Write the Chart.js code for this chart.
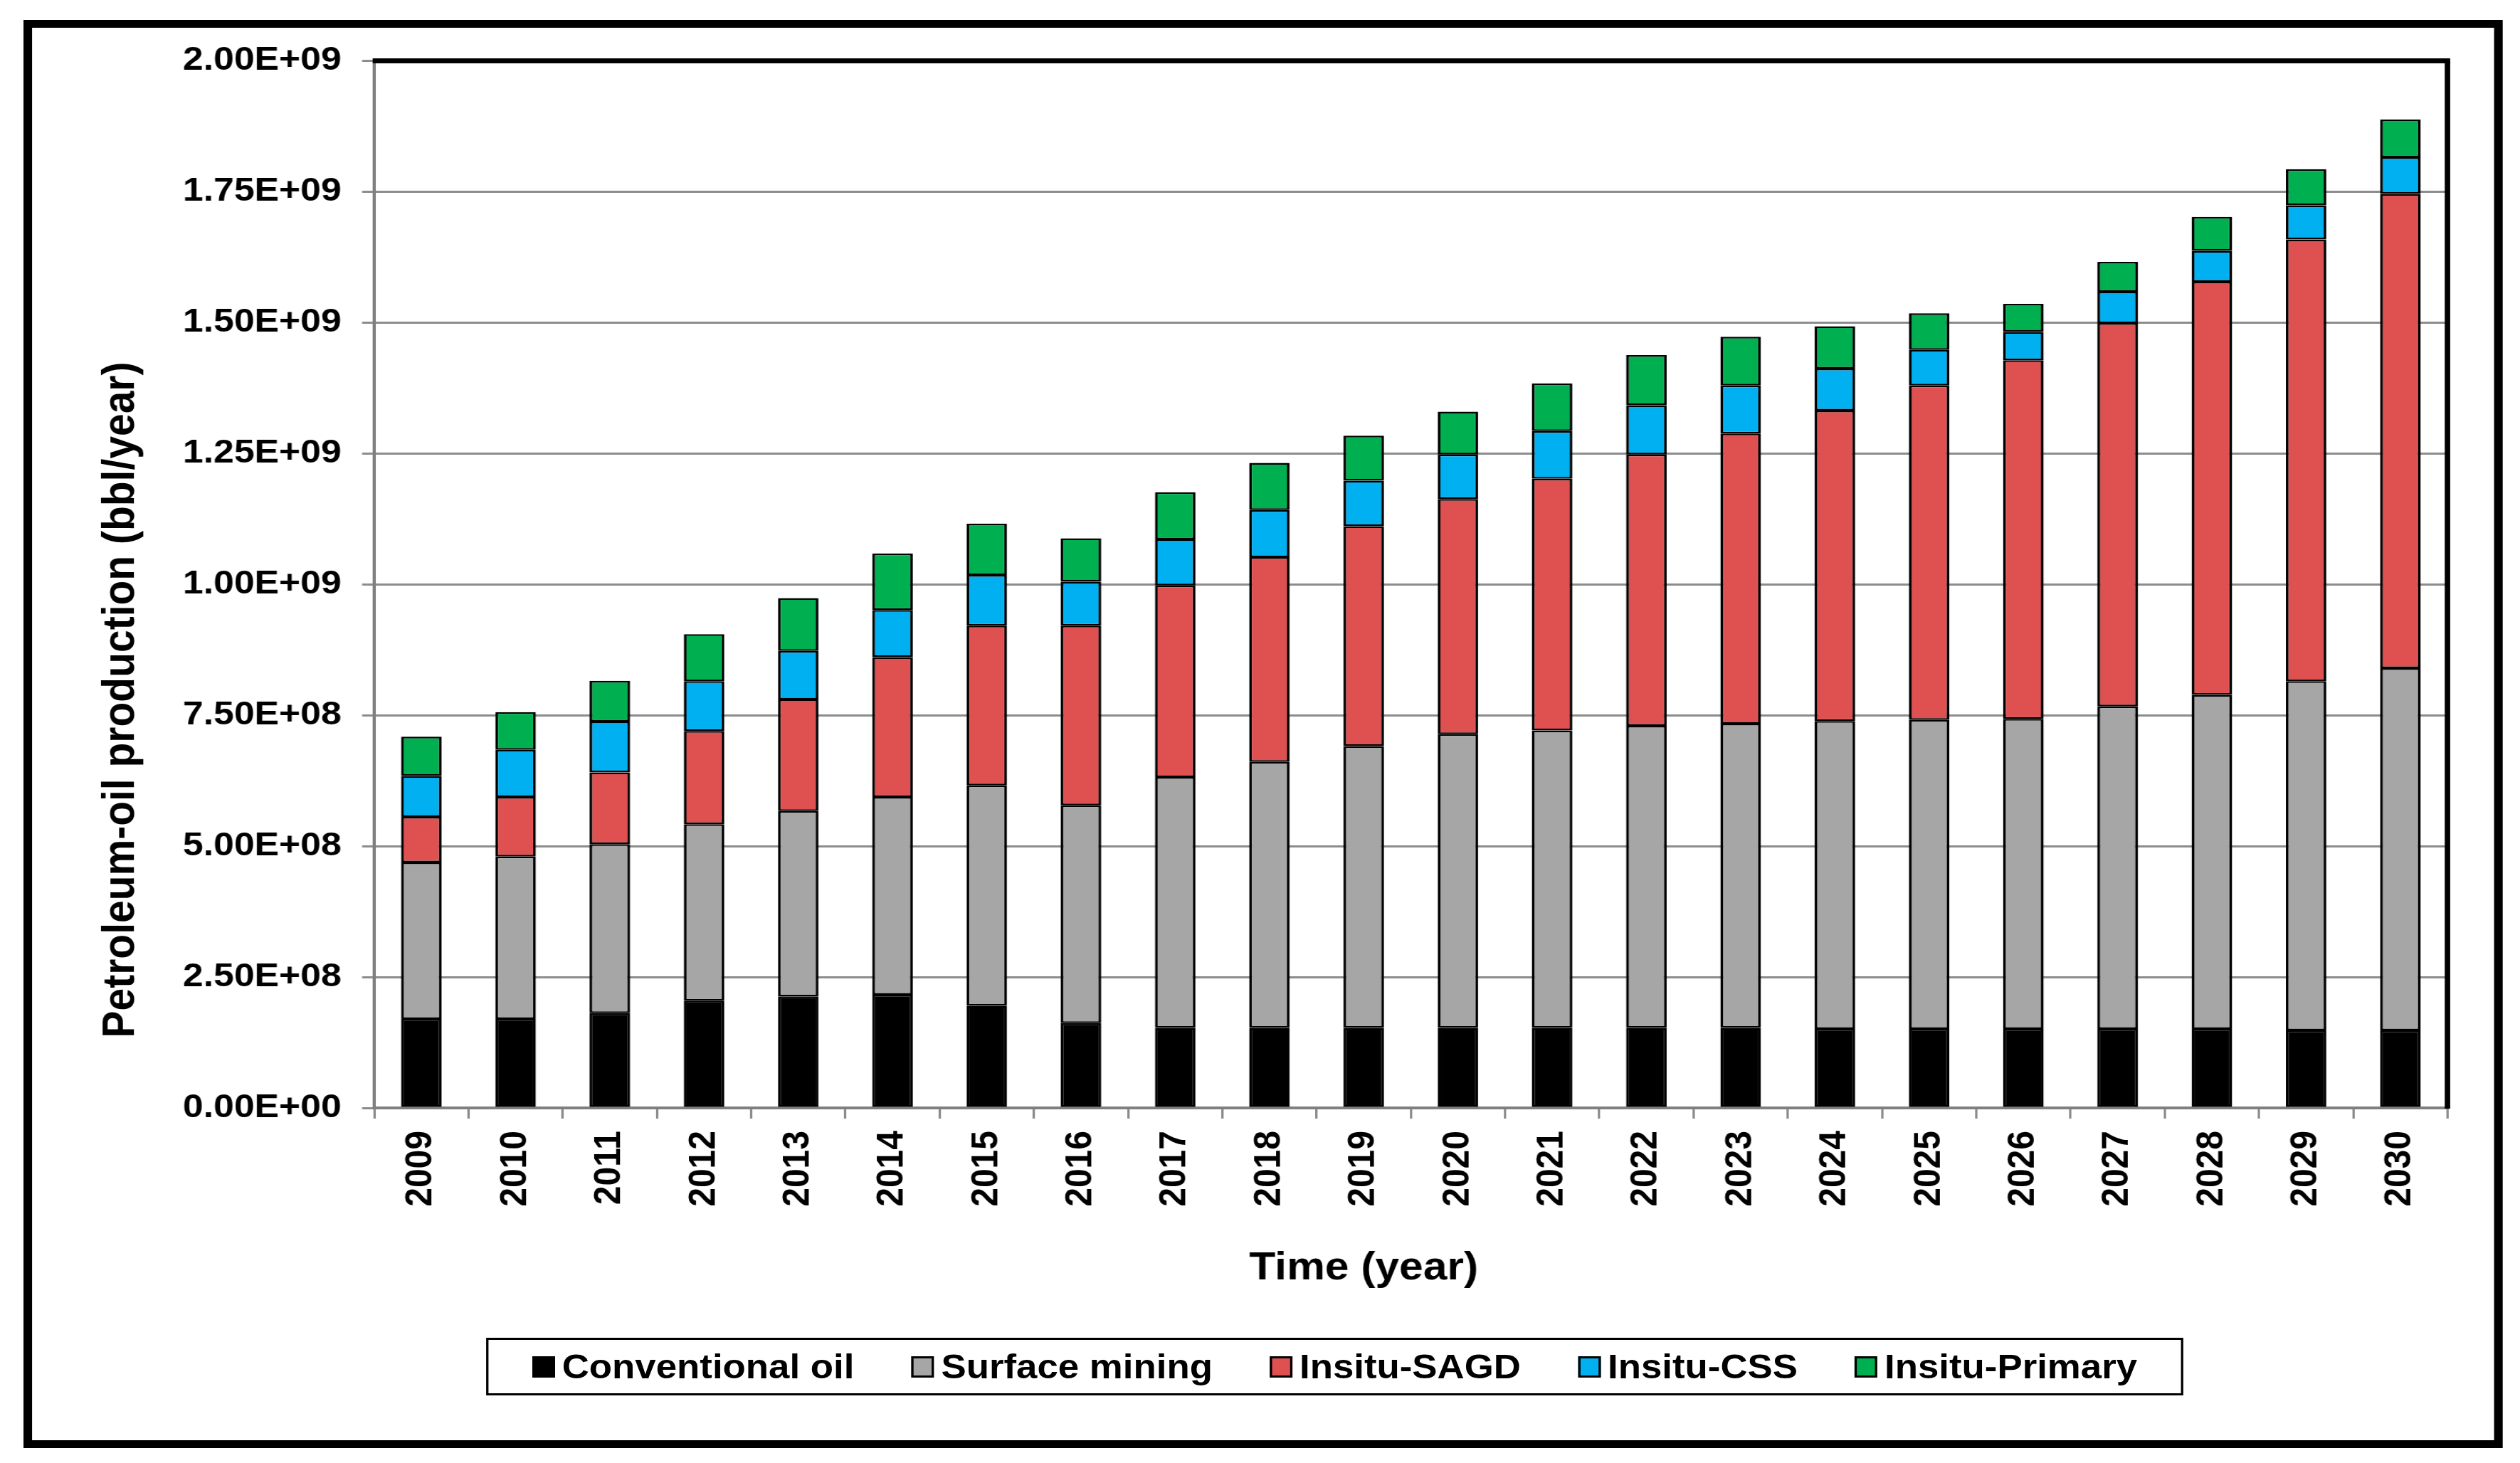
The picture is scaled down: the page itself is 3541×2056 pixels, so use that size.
<!DOCTYPE html>
<html>
<head>
<meta charset="utf-8">
<script src="https://cdn.jsdelivr.net/npm/chart.js@4.4.0/dist/chart.umd.min.js"></script>
<style>
html,body{margin:0;padding:0;background:#fff;overflow:hidden;width:3541px;height:2056px;}
#wrap{position:absolute;left:0;top:0;width:3219px;height:2056px;transform:scaleX(1.1);transform-origin:0 0;}
#chartbox{position:absolute;left:0;top:0;width:3219px;height:2056px;}
#frame{position:absolute;left:30px;top:28px;width:3167px;height:2007px;box-sizing:border-box;border:11px solid #000;pointer-events:none;}
#legend{position:absolute;left:621px;top:1880px;width:2168px;height:81px;box-sizing:border-box;border:3px solid #000;display:flex;align-items:center;justify-content:center;gap:73px;font:bold 48px "Liberation Sans",Arial,sans-serif;color:#000;background:#fff;}
.item{display:flex;align-items:center;white-space:nowrap;}
.sw{width:29px;height:30px;box-sizing:border-box;border:3px solid #000;margin-right:9px;}
</style>
</head>
<body>
<div id="wrap">
  <div id="chartbox"><canvas id="c"></canvas></div>
  <div id="frame"></div>
  <div id="legend"></div>
</div>
<script>
// ---- data (bbl/year) ----
const years = ["2009","2010","2011","2012","2013","2014","2015","2016","2017","2018","2019","2020","2021","2022","2023","2024","2025","2026","2027","2028","2029","2030"];
const conventionalOil = [1.70e8,1.70e8,1.81e8,2.05e8,2.13e8,2.16e8,1.95e8,1.62e8,1.53e8,1.53e8,1.53e8,1.53e8,1.53e8,1.53e8,1.53e8,1.51e8,1.51e8,1.51e8,1.51e8,1.51e8,1.48e8,1.48e8];
const surfaceMining   = [2.99e8,3.10e8,3.23e8,3.37e8,3.54e8,3.78e8,4.21e8,4.16e8,4.79e8,5.08e8,5.38e8,5.61e8,5.68e8,5.77e8,5.81e8,5.88e8,5.90e8,5.92e8,6.16e8,6.38e8,6.67e8,6.92e8];
const insituSAGD      = [0.87e8,1.14e8,1.37e8,1.78e8,2.13e8,2.67e8,3.05e8,3.43e8,3.66e8,3.91e8,4.20e8,4.49e8,4.81e8,5.18e8,5.54e8,5.93e8,6.39e8,6.85e8,7.32e8,7.89e8,8.44e8,9.06e8];
const insituCSS       = [0.78e8,0.90e8,0.97e8,0.95e8,0.93e8,0.90e8,0.97e8,0.84e8,0.88e8,0.90e8,0.87e8,0.85e8,0.91e8,0.94e8,0.92e8,0.80e8,0.68e8,0.54e8,0.60e8,0.59e8,0.65e8,0.70e8];
const insituPrimary   = [0.75e8,0.72e8,0.78e8,0.90e8,1.01e8,1.08e8,0.98e8,0.83e8,0.90e8,0.90e8,0.86e8,0.82e8,0.91e8,0.96e8,0.93e8,0.81e8,0.70e8,0.54e8,0.57e8,0.65e8,0.69e8,0.72e8];
const seriesNames = ["Conventional oil","Surface mining","Insitu-SAGD","Insitu-CSS","Insitu-Primary"];
const yTickMin = 0, yTickMax = 2.0e9, yTickStep = 2.5e8;
const xTitle = "Time (year)";
const yTitle = "Petroleum-oil production (bbl/year)";

// ---- styles ----
const colors = ["#000000","#A6A6A6","#DF5151","#00B0F0","#00B050"];
const FONT = '"Liberation Sans", Arial, sans-serif';
const seriesData = [conventionalOil, surfaceMining, insituSAGD, insituCSS, insituPrimary];

function sci(v){
  if (v === 0) return "0.00E+00";
  const e = Math.floor(Math.log10(v) + 1e-9);
  const m = v / Math.pow(10, e);
  return m.toFixed(2) + "E+" + String(e).padStart(2, "0");
}

const decor = {
  id: "decor",
  afterDraw(chart){
    const {ctx, chartArea:a} = chart;
    ctx.save();
    ctx.strokeStyle = "#000";
    ctx.lineWidth = 7;
    ctx.beginPath();
    ctx.moveTo(a.left - 2, a.top);
    ctx.lineTo(a.right + 3.5, a.top);
    ctx.stroke();
    ctx.beginPath();
    ctx.moveTo(a.right, a.top);
    ctx.lineTo(a.right, a.bottom + 1);
    ctx.stroke();
    ctx.fillStyle = "#000";
    ctx.textAlign = "center";
    ctx.textBaseline = "alphabetic";
    ctx.font = "bold 55px " + FONT;
    ctx.fillText(xTitle, 1742, 1798);
    ctx.translate(170.5, 983.5);
    ctx.rotate(-Math.PI / 2);
    ctx.font = "bold 57px " + FONT;
    ctx.fillText(yTitle, 0, 0);
    ctx.restore();
  }
};

const datasets = seriesNames.map((name, i) => ({
  label: name,
  data: seriesData[i],
  backgroundColor: colors[i],
  borderColor: "#000000",
  borderWidth: {left: 3.5, right: 3.5, top: 2.5, bottom: 2.5},
  borderSkipped: false,
  barPercentage: 0.43,
  categoryPercentage: 1.0
}));

new Chart(document.getElementById("c"), {
  type: "bar",
  data: { labels: years, datasets },
  plugins: [decor],
  options: {
    responsive: true,
    maintainAspectRatio: false,
    animation: false,
    layout: { padding: { left: 0, top: 85.5, right: 92.6, bottom: 299 } },
    plugins: { legend: { display: false }, tooltip: { enabled: false } },
    scales: {
      x: {
        stacked: true,
        afterFit: s => { s.height = 200; },
        grid: { display: true, drawOnChartArea: false, drawTicks: true, tickLength: 15, color: "#8c8c8c", lineWidth: 3 },
        border: { display: true, color: "#7f7f7f", width: 4 },
        ticks: { color: "#000", font: { family: FONT, size: 48, weight: "bold" }, minRotation: 90, maxRotation: 90, padding: 17, autoSkip: false }
      },
      y: {
        stacked: true,
        min: yTickMin,
        max: yTickMax,
        afterFit: s => { s.width = 478; },
        grid: { color: "#8c8c8c", lineWidth: 3, drawTicks: true, tickLength: 15.5, tickColor: "#8c8c8c" },
        border: { display: true, color: "#7f7f7f", width: 4 },
        ticks: { stepSize: yTickStep, color: "#000", font: { family: FONT, size: 47, weight: "bold" }, padding: 26.4, callback: v => sci(v) }
      }
    }
  }
});

// ---- HTML legend ----
const lg = document.getElementById("legend");
seriesNames.forEach((name, i) => {
  const it = document.createElement("div"); it.className = "item";
  const sw = document.createElement("div"); sw.className = "sw"; sw.style.background = colors[i];
  const tx = document.createElement("span"); tx.textContent = name;
  it.appendChild(sw); it.appendChild(tx); lg.appendChild(it);
});
</script>
</body>
</html>
